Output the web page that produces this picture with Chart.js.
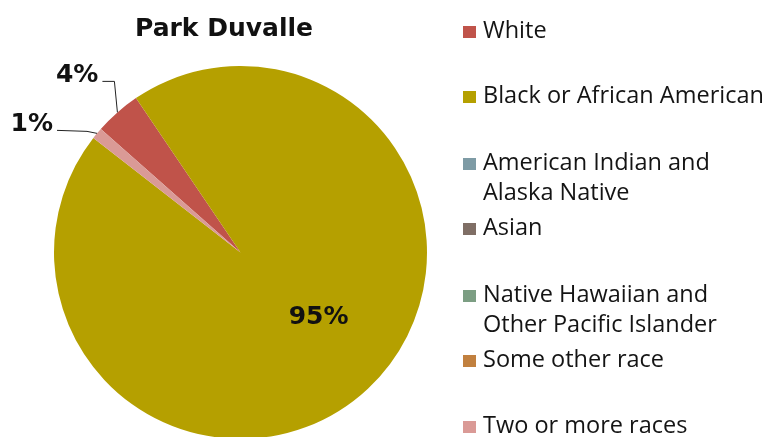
<!DOCTYPE html>
<html>
<head>
<meta charset="utf-8">
<script src="https://cdn.jsdelivr.net/npm/chart.js@4.4.1/dist/chart.umd.min.js"></script>
<style>
  html, body { margin: 0; padding: 0; background: #fff; overflow: hidden; }
  #wrap { width: 767px; height: 437px; overflow: hidden; }
  #wrap div { width: 767px; height: 440px; }
</style>
</head>
<body>
<div id="wrap"><div><canvas id="raceChart"></canvas></div></div>
<script>
// Park Duvalle - race breakdown (percent of residents)
const chartTitle = 'Park Duvalle';
const races = [
  'White',
  'Black or African American',
  ['American Indian and', 'Alaska Native'],
  'Asian',
  ['Native Hawaiian and', 'Other Pacific Islander'],
  'Some other race',
  'Two or more races'
];
const percents = [4, 95, 0, 0, 0, 0, 1];
const sliceColors = ['#C0534A', '#B5A000', '#7E9BA5', '#7F6E65', '#7C9E83', '#C1803F', '#DA9A96'];

// title, legend and percent labels drawn by hand (Excel-style layout)
const decorPlugin = {
  id: 'decor',
  afterDraw(chart, args, opts) {
    const ctx = chart.ctx;
    const arcs = chart.getDatasetMeta(0).data;
    ctx.save();

    // title
    ctx.fillStyle = '#111';
    ctx.font = 'bold 25px "DejaVu Sans"';
    ctx.textAlign = 'center';
    ctx.textBaseline = 'alphabetic';
    ctx.fillText(chartTitle, opts.titleX, opts.titleY);

    // legend
    ctx.textAlign = 'left';
    ctx.font = opts.legendFont;
    races.forEach((name, i) => {
      const y = opts.rowY[i];
      ctx.fillStyle = sliceColors[i];
      ctx.fillRect(opts.legendX, y - 12, 13, 12);
      ctx.fillStyle = '#141414';
      const lines = Array.isArray(name) ? name : [name];
      lines.forEach((t, k) => ctx.fillText(t, opts.legendX + 20, y + k * 30));
    });

    // percent labels
    ctx.font = 'bold 25px "DejaVu Sans"';
    ctx.fillStyle = '#111';
    opts.inside.forEach(o => {
      const a = arcs[o.index];
      const mid = (a.startAngle + a.endAngle) / 2;
      const r = a.outerRadius * o.r;
      ctx.textAlign = 'center';
      ctx.textBaseline = 'middle';
      ctx.fillText(percents[o.index] + '%', a.x + Math.cos(mid) * r + o.dx, a.y + Math.sin(mid) * r + o.dy);
    });
    opts.callouts.forEach(o => {
      const a = arcs[o.index];
      const mid = (a.startAngle + a.endAngle) / 2;
      const px = a.x + Math.cos(mid) * a.outerRadius;
      const py = a.y + Math.sin(mid) * a.outerRadius;
      const ex = px + o.end[0], ey = py + o.end[1];
      ctx.strokeStyle = '#222';
      ctx.lineWidth = 1;
      ctx.beginPath();
      ctx.moveTo(px, py);
      ctx.lineTo(px + o.elbow[0], py + o.elbow[1]);
      ctx.lineTo(ex, ey);
      ctx.stroke();
      ctx.textAlign = 'right';
      ctx.textBaseline = 'alphabetic';
      ctx.fillText(percents[o.index] + '%', ex - 4, ey + 1);
    });
    ctx.restore();
  }
};

new Chart(document.getElementById('raceChart'), {
  type: 'pie',
  data: {
    labels: races,
    datasets: [{
      data: percents,
      backgroundColor: sliceColors,
      borderWidth: 0
    }]
  },
  options: {
    responsive: true,
    maintainAspectRatio: false,
    animation: false,
    rotation: -48.5,
    layout: { padding: { top: 66, bottom: 1, left: 54, right: 340 } },
    plugins: {
      legend: { display: false },
      tooltip: { enabled: false },
      decor: {
        titleX: 224,
        titleY: 36,
        legendX: 463,
        legendFont: '23.5px "Open Sans"',
        rowY: [38, 103, 170, 235, 302, 367, 433],
        inside: [{ index: 1, r: 0.55, dx: 8, dy: -10 }],
        callouts: [
          { index: 0, elbow: [-3, -31], end: [-15, -31] },
          { index: 6, elbow: [-10, -2], end: [-40, -3] }
        ]
      }
    }
  },
  plugins: [decorPlugin]
});
</script>
</body>
</html>
